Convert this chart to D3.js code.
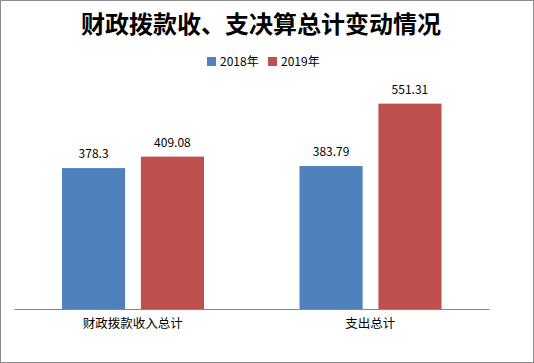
<!DOCTYPE html>
<html><head><meta charset="utf-8">
<script src="https://cdn.jsdelivr.net/npm/d3@7"></script>
<style>html,body{margin:0;padding:0;background:#fff;}svg{display:block;}</style>
</head><body>
<script>
const categories = ["财政拨款收入总计", "支出总计"];
const seriesNames = ["2018年", "2019年"];
const values2018 = [378.3, 383.79];
const values2019 = [409.08, 551.31];
const labels2018 = ["378.3", "383.79"];
const labels2019 = ["409.08", "551.31"];
const colors = ["#4f81bd", "#c0504d"];

const W = 534, H = 363;
const svg = d3.select("body").append("svg").attr("width", W).attr("height", H);
svg.append("rect").attr("x", 0.5).attr("y", 0.5).attr("width", W - 1).attr("height", H - 1)
  .attr("fill", "#fff").attr("stroke", "#8c8c8c");

const font = "'Noto Sans CJK SC', 'DejaVu Sans', sans-serif";

svg.append("text").attr("x", 261).attr("y", 33).attr("text-anchor", "middle")
  .attr("font-family", font).attr("font-weight", 700).attr("font-size", 24).attr("fill", "#000")
  .text("财政拨款收、支决算总计变动情况");

const x0 = d3.scaleBand().domain(categories).range([14, 489]).paddingInner(0).paddingOuter(0);
const x1 = d3.scaleBand().domain(seriesNames).range([48, 190]).paddingInner(0.2);
const y = d3.scaleLinear().domain([0, 600]).range([309, 85.5]);

const series = [
  {name: seriesNames[0], vals: values2018, labs: labels2018, color: colors[0]},
  {name: seriesNames[1], vals: values2019, labs: labels2019, color: colors[1]}
];

// legend
const leg = svg.append("g");
const legX = [207, 268];
series.forEach((s, i) => {
  leg.append("rect").attr("x", legX[i]).attr("y", 57).attr("width", 9).attr("height", 9).attr("fill", s.color);
  leg.append("text").attr("x", legX[i] + 13).attr("y", 66).attr("font-family", font).attr("font-size", 12)
    .attr("fill", "#000").text(s.name);
});

series.forEach((s, si) => {
  categories.forEach((c, ci) => {
    const bx = x0(c) + x1(s.name);
    const v = s.vals[ci];
    svg.append("rect").attr("x", bx).attr("y", y(v)).attr("width", x1.bandwidth())
      .attr("height", y(0) - y(v)).attr("fill", s.color);
    svg.append("text").attr("x", bx + x1.bandwidth() / 2).attr("y", y(v) - 10)
      .attr("text-anchor", "middle").attr("font-family", font).attr("font-size", 12)
      .attr("fill", "#000").text(s.labs[ci]);
  });
});

// axis
const axis = d3.axisBottom(x0).tickSize(0).tickPadding(10);
const g = svg.append("g").attr("transform", "translate(0,309)").call(axis);
g.select(".domain").attr("stroke", "#868686");
g.selectAll("text").attr("font-family", font).attr("font-size", 12.5).attr("fill", "#000");
</script>
</body></html>
